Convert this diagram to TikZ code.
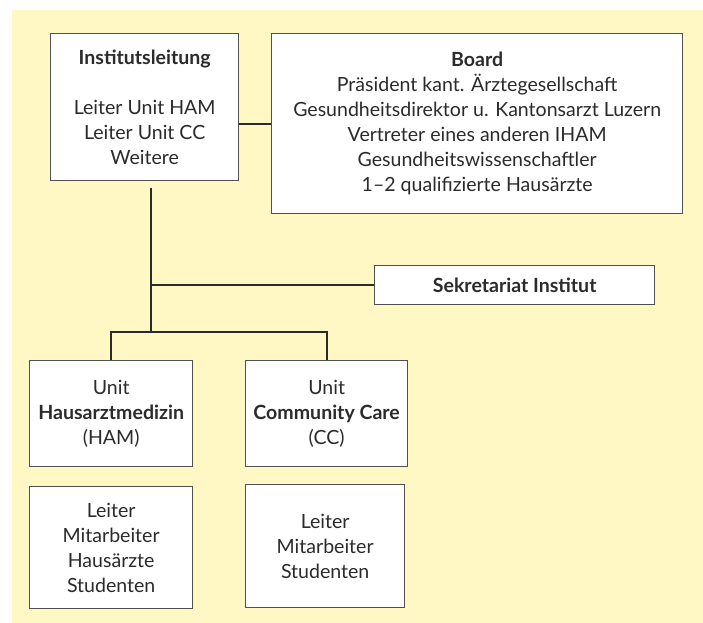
\documentclass[tikz,border=0pt]{standalone}
\usepackage{fontspec}
\setmainfont{Lato}
\definecolor{bgyellow}{HTML}{FFF8C4}
\definecolor{boxline}{HTML}{505050}
\definecolor{ink}{HTML}{2B2B2B}
\tikzset{
  unitbox/.style={draw=boxline, line width=0.9pt, fill=white, text=ink, align=center,
    inner sep=0pt, anchor=north west, font=\fontsize{13.9}{17.8}\selectfont},
  link/.style={line width=1.4pt, draw=ink},
}

\begin{document}
\begin{tikzpicture}[x=0.025cm, y=-0.025cm]
			\useasboundingbox (0,0) rectangle (703,623);
			\fill[bgyellow] (12,10) rectangle (703,623); % background

			% Leitung and board
			\node[unitbox, minimum width=4.7cm, minimum height=3.675cm] (inst) at (50,33)
				{\textbf{Institutsleitung}\\[17.8pt] Leiter Unit HAM\\ Leiter Unit CC\\ Weitere};
			\node[unitbox, minimum width=10.275cm, minimum height=4.5cm] (board) at (271,33)
				{\textbf{Board}\\ Präsident kant. Ärztegesellschaft\\ Gesundheitsdirektor u. Kantonsarzt Luzern\\
				 Vertreter eines anderen IHAM\\ Gesundheitswissenschaftler\\ 1–2 qualifizierte Hausärzte};

			% Sekretariat
			\node[unitbox, minimum width=7cm, minimum height=0.975cm] (sek) at (374,265) {\textbf{Sekretariat Institut}};

			% Units
			\node[unitbox, minimum width=4.075cm, minimum height=2.65cm] (ham) at (29,360)
				{Unit\\ \textbf{Hausarztmedizin}\\ (HAM)};
			\node[unitbox, minimum width=4.05cm, minimum height=2.65cm] (cc) at (245,360)
				{Unit\\ \textbf{Community Care}\\ (CC)};

			% Staff of the units
			\node[unitbox, minimum width=4.075cm, minimum height=3.05cm] (hamstaff) at (29,486)
				{Leiter\\ Mitarbeiter\\ Hausärzte\\ Studenten};
			\node[unitbox, minimum width=3.975cm, minimum height=3.075cm] (ccstaff) at (245,484)
				{Leiter\\ Mitarbeiter\\ Studenten};

			% Draw links
			\coordinate (trunk) at (151,188);
			\coordinate (fork) at (151,332);
			\draw[link] (inst.east |- board.west) -- (board.west);
			\draw[link] (trunk) -- (fork);
			\draw[link] (trunk |- sek.west) -- (sek.west);
			\draw[link] (ham.north) |- (fork) -| (cc.north);
		\end{tikzpicture}
\end{document}
